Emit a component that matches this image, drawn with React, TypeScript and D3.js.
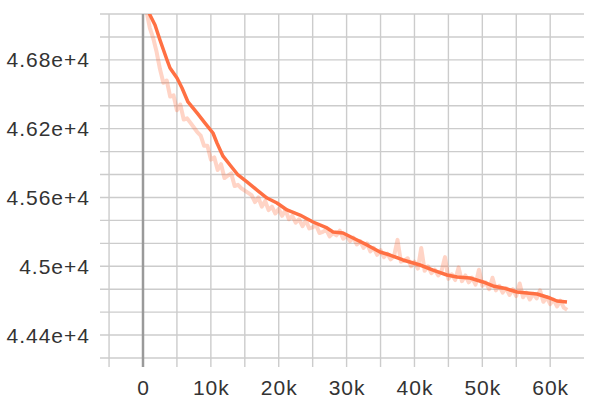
import React from "react";
import * as d3 from "d3";

const smoothSteps = [0.3, 1.03, 1.77, 2.5, 3.54, 3.98, 5.01, 5.75, 6.63, 7.96, 9.14, 10.31, 10.9, 11.79, 12.82, 14.0, 15.32, 16.8, 18.27, 19.74, 21.22, 23.13, 25.05, 27.11, 28.0, 29.47, 30.94, 33.0, 34.92, 36.39, 38.31, 40.82, 42.73, 44.79, 46.27, 48.18, 50.1, 51.57, 53.05, 55.11, 56.58, 58.06, 59.97, 61.0, 62.47];
const smoothValues = [47330, 47191, 47104, 46973, 46799, 46729, 46642, 46555, 46433, 46337, 46249, 46162, 46075, 45960, 45883, 45796, 45735, 45665, 45595, 45552, 45491, 45447, 45386, 45334, 45299, 45290, 45247, 45186, 45124, 45098, 45055, 45011, 44967, 44924, 44906, 44898, 44863, 44828, 44811, 44776, 44767, 44758, 44723, 44697, 44688];

const rawValues = [
  47230, 47080, 46990, 46870, 46720, 46600, 46620, 46480, 46490, 46360,
  46410, 46280, 46290, 46250, 46210, 46170, 46140, 46050, 46050, 45930,
  45950, 45840, 45890, 45770, 45790, 45810, 45700, 45710, 45680, 45660,
  45640, 45620, 45560, 45600, 45520, 45570, 45490, 45520, 45460, 45500,
  45440, 45490, 45410, 45440, 45380, 45410, 45350, 45400, 45330, 45340,
  45360, 45290, 45300, 45320, 45260, 45290, 45270, 45310, 45240, 45270,
  45220, 45250, 45190, 45220, 45160, 45200, 45130, 45160, 45100, 45140,
  45080, 45110, 45060, 45090, 45230, 45040, 45050, 45070, 45000, 45040,
  44980, 45160, 44960, 45000, 44940, 44970, 44920, 44960, 45080, 44890,
  44930, 44880, 44990, 44870, 44920, 44860, 44900, 44840, 44970, 44830,
  44860, 44800, 44900, 44790, 44830, 44770, 44810, 44750, 44800, 44740,
  44850, 44730, 44770, 44710, 44760, 44720, 44790, 44690, 44730, 44670,
  44710, 44650, 44700, 44640, 44620
];
const rawStepStart = 0.5;
const rawStepInc = 0.5;

const xTickSteps = [-5, 0, 5, 10, 15, 20, 25, 30, 35, 40, 45, 50, 55, 60];
const xLabelSteps = [0, 10, 20, 30, 40, 50, 60];
const xLabels = ["0", "10k", "20k", "30k", "40k", "50k", "60k"];
const yGridValues = [44200, 44400, 44600, 44800, 45000, 45200, 45400, 45600, 45800, 46000, 46200, 46400, 46600, 46800, 47000, 47200];
const yLabelValues = [44400, 45000, 45600, 46200, 46800];
const yLabels = ["4.44e+4", "4.5e+4", "4.56e+4", "4.62e+4", "4.68e+4"];

export default function App() {
  const W = 591, H = 413;
  const left = 100, right = 584, top = 14, bottom = 358;
  const x = d3.scaleLinear().domain([0, 60]).range([143, 550.2]);
  const y = d3.scaleLinear().domain([44200, 47200]).range([bottom, top]);

  const smooth = smoothSteps.map((s, i) => [s, smoothValues[i]] as [number, number]);
  const raw = rawValues.map((v, i) => [rawStepStart + i * rawStepInc, v] as [number, number]);
  const line = d3.line<[number, number]>().x(d => x(d[0])).y(d => y(d[1]));

  const gridColor = "#cccccc";
  const font = "'Liberation Sans', Arial, sans-serif";

  return (
    <svg width={W} height={H} style={{ position: "absolute", left: 0, top: 0, background: "#fff" }}>
      <defs>
        <clipPath id="plot">
          <rect x={left} y={top} width={right - left} height={bottom - top} />
        </clipPath>
      </defs>
      {yGridValues.map(v => (
        <line key={"h" + v} x1={left} x2={right} y1={y(v)} y2={y(v)} stroke={gridColor} strokeWidth={1.4} />
      ))}
      {xTickSteps.map(s => (
        <line key={"v" + s} x1={x(s)} x2={x(s)} y1={top} y2={367}
          stroke={s === 0 ? "#9a9a9a" : gridColor} strokeWidth={s === 0 ? 2.5 : 1.4} />
      ))}
      <g clipPath="url(#plot)">
        <path d={line(raw) || ""} fill="none" stroke="#ff7043" strokeOpacity={0.3} strokeWidth={4} strokeLinejoin="round" />
        <path d={line(smooth) || ""} fill="none" stroke="#ff7043" strokeWidth={3.5} strokeLinejoin="round" />
      </g>
      {yLabelValues.map((v, i) => (
        <text key={"yl" + v} x={90} y={y(v)} dy="0.36em" textAnchor="end" fontFamily={font} fontSize={21} letterSpacing={1} fill="#333">
          {yLabels[i]}
        </text>
      ))}
      {xLabelSteps.map((s, i) => (
        <text key={"xl" + s} x={x(s) + 0.5} y={395} textAnchor="middle" fontFamily={font} fontSize={21} letterSpacing={1} fill="#333">
          {xLabels[i]}
        </text>
      ))}
    </svg>
  );
}
